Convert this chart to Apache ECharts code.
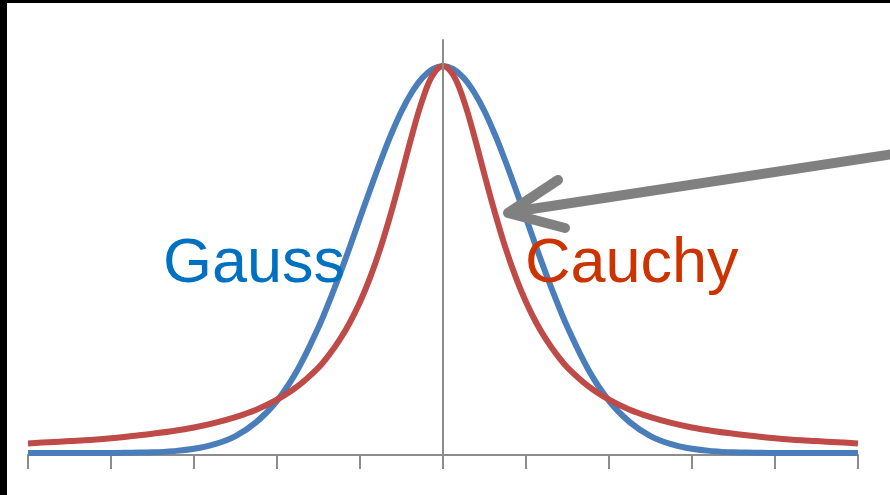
<!DOCTYPE html>
<html>
<head>
<meta charset="utf-8">
<script src="https://cdn.jsdelivr.net/npm/echarts@6/dist/echarts.min.js"></script>
<style>
  html, body { margin: 0; padding: 0; background: #fff; }
  #chart { width: 890px; height: 495px; }
</style>
</head>
<body>
<div id="chart"></div>
<script>
// right half x positions (one unit per tick), denser near the peak
var xsHalf = [0, 0.125, 0.25, 0.375, 0.5, 0.625, 0.75, 0.875, 1, 1.125, 1.25, 1.375, 1.5, 1.75, 2, 2.25, 2.5, 2.75,
              3, 3.25, 3.5, 3.75, 4, 4.25, 4.5, 4.75, 5];

// curve heights, peak = 1
var gaussHalf = [1, 0.992, 0.969, 0.932, 0.883, 0.823, 0.755, 0.682, 0.607, 0.531, 0.458, 0.389, 0.325, 0.216,
                 0.135, 0.080, 0.044, 0.023, 0.011, 0.005, 0.002, 0.001, 0, 0, 0, 0, 0];
var cauchyHalf = [1, 0.976, 0.911, 0.820, 0.719, 0.621, 0.532, 0.455, 0.390, 0.336, 0.291, 0.253, 0.221, 0.173,
                  0.138, 0.112, 0.093, 0.078, 0.066, 0.057, 0.050, 0.044, 0.038, 0.034, 0.031, 0.028, 0.025];

// both curves are symmetric: left half mirrors the right half
function pairs(half) {
  var left = [];
  for (var i = xsHalf.length - 1; i > 0; i--) left.push([-xsHalf[i], half[i]]);
  var right = xsHalf.map(function (x, i) { return [x, half[i]]; });
  return left.concat(right);
}

var chart = echarts.init(document.getElementById('chart'), null, { renderer: 'canvas' });

var option = {
  animation: false,
  backgroundColor: '#fff',
  grid: { left: 28, right: 32, top: 40, bottom: 40 },
  xAxis: {
    type: 'value',
    min: -5,
    max: 5,
    interval: 1,
    axisLine: { onZero: false, lineStyle: { color: '#8c8c8c', width: 2 } },
    axisTick: { show: true, length: 14, lineStyle: { color: '#8c8c8c', width: 2 } },
    axisLabel: { show: false },
    splitLine: { show: false }
  },
  yAxis: {
    type: 'value',
    min: -0.005,
    max: 1.067,
    z: 10,
    axisLine: { show: true, onZero: true, lineStyle: { color: '#8c8c8c', width: 2 } },
    axisTick: { show: false },
    axisLabel: { show: false },
    splitLine: { show: false }
  },
  series: [
    {
      name: 'Gauss',
      type: 'line',
      data: pairs(gaussHalf),
      smooth: 0.4,
      symbol: 'none',
      lineStyle: { color: '#4a7ebb', width: 6 }
    },
    {
      name: 'Cauchy',
      type: 'line',
      data: pairs(cauchyHalf),
      smooth: 0.4,
      symbol: 'none',
      lineStyle: { color: '#be4b48', width: 6 }
    }
  ],
  graphic: [
    // black frame edges
    { type: 'rect', shape: { x: 0, y: 0, width: 890, height: 3 }, style: { fill: '#000' }, z: 100 },
    { type: 'rect', shape: { x: 0, y: 0, width: 7, height: 495 }, style: { fill: '#000' }, z: 100 },
    // labels
    {
      type: 'text', x: 163, y: 265, z: 50,
      style: { text: 'Gauss', fill: '#0070c0', font: '63px "Liberation Sans", Arial, sans-serif', verticalAlign: 'middle' }
    },
    {
      type: 'text', x: 525, y: 265, z: 50,
      style: { text: 'Cauchy', fill: '#cc3300', font: '63px "Liberation Sans", Arial, sans-serif', verticalAlign: 'middle' }
    },
    // arrow pointing at the curves
    {
      type: 'line', z: 60,
      shape: { x1: 512, y1: 212, x2: 900, y2: 153 },
      style: { stroke: '#808080', lineWidth: 10, lineCap: 'round' }
    },
    {
      type: 'polyline', z: 60,
      shape: { points: [[558, 180], [508, 213], [565, 228]] },
      style: { stroke: '#808080', lineWidth: 10, lineCap: 'round', lineJoin: 'round', fill: null }
    }
  ]
};

chart.setOption(option);
</script>
</body>
</html>
